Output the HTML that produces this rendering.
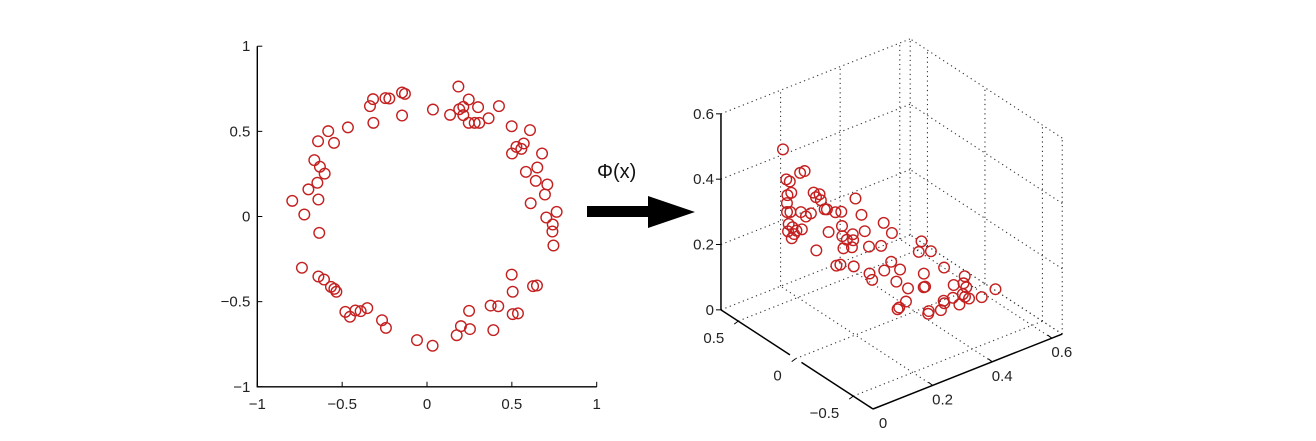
<!DOCTYPE html>
<html><head><meta charset="utf-8"><style>
html,body{margin:0;padding:0;background:#fff;}
svg{display:block;font-family:"Liberation Sans",sans-serif;}
</style></head><body>
<svg id="fig" width="1316" height="441" viewBox="0 0 1316 441">
<g id="left"></g>
<g id="arrow">
<rect x="587" y="206" width="64" height="11" fill="#000"/>
<polygon points="648,196 695,212 648,228" fill="#000"/>
<text x="597" y="178" font-size="20" fill="#111">Φ(x)</text>
</g>
<g id="right"></g>
</svg>
<script>
const x1 = [0.185,-0.318,-0.336,-0.316,-0.245,-0.222,-0.147,-0.13,-0.147,0.035,0.136,0.19,0.214,0.246,0.301,0.214,0.246,0.281,0.308,0.363,0.424,-0.466,-0.582,-0.642,-0.548,-0.664,-0.631,-0.603,-0.646,-0.699,-0.64,-0.794,-0.723,-0.635,-0.737,-0.64,-0.607,-0.566,-0.546,-0.534,-0.481,-0.454,-0.422,-0.391,-0.352,-0.265,-0.242,-0.059,0.033,0.175,0.2,0.248,0.253,0.391,0.375,0.42,0.505,0.536,0.505,0.499,0.625,0.648,0.499,0.607,0.57,0.527,0.556,0.501,0.678,0.65,0.583,0.641,0.709,0.695,0.611,0.764,0.703,0.741,0.739,0.745];
const x2 = [0.763,0.689,0.648,0.55,0.695,0.693,0.728,0.72,0.593,0.628,0.597,0.63,0.644,0.687,0.642,0.595,0.55,0.55,0.55,0.577,0.648,0.523,0.501,0.442,0.432,0.331,0.292,0.252,0.198,0.159,0.1,0.092,0.012,-0.096,-0.301,-0.352,-0.37,-0.413,-0.425,-0.442,-0.56,-0.589,-0.552,-0.556,-0.538,-0.609,-0.654,-0.726,-0.759,-0.697,-0.644,-0.554,-0.661,-0.667,-0.523,-0.527,-0.573,-0.569,-0.442,-0.341,-0.409,-0.405,0.53,0.507,0.429,0.409,0.397,0.37,0.37,0.288,0.262,0.209,0.188,0.129,0.078,0.027,-0.006,-0.047,-0.088,-0.17];
const leftTicks = [-1,-0.5,0,0.5,1];
const leftTickLabels = ["\u22121","\u22120.5","0","0.5","1"];
const xTicks3 = [0,0.2,0.4,0.6];
const xTickLabels3 = ["0","0.2","0.4","0.6"];
const yTicks3 = [-0.5,0,0.5];
const yTickLabels3 = ["\u22120.5","0","0.5"];
const zTicks3 = [0,0.2,0.4,0.6];
const zTickLabels3 = ["0","0.2","0.4","0.6"];
const NS="http://www.w3.org/2000/svg";
function mk(parent,tag,attrs){const e=document.createElementNS(NS,tag);for(const k in attrs)e.setAttribute(k,attrs[k]);parent.appendChild(e);return e;}
const RED="#c42020";
const FS=15, TXT='#222';
// Left plot
const L=document.getElementById('left');
const sx=v=>427+v*169.7, sy=v=>216.5-v*170.3;
let ax=mk(L,'path',{d:`M${sx(-1)},${sy(1)} V${sy(-1)} H${sx(1)}`,stroke:'#000','stroke-width':1.4,fill:'none'});


leftTicks.forEach((t,i)=>{
  mk(L,'line',{x1:sx(t),y1:sy(-1),x2:sx(t),y2:sy(-1)-5,stroke:'#000'});
  mk(L,'line',{x1:sx(-1),y1:sy(t),x2:sx(-1)+5,y2:sy(t),stroke:'#000'});
  let tx=mk(L,'text',{x:sx(t),y:sy(-1)+22,'font-size':FS,fill:TXT,'text-anchor':'middle'});tx.textContent=leftTickLabels[i];
  
  
  let ty=mk(L,'text',{x:sx(-1)-7,y:sy(t)+5,'font-size':FS,fill:TXT,'text-anchor':'end'});ty.textContent=leftTickLabels[i];
  
  
});
x1.forEach((a,i)=>{
  let c=mk(L,'circle',{cx:sx(a),cy:sy(x2[i]),r:5.3,fill:'none',stroke:RED,'stroke-width':1.4});
  
  
});
// Right 3D plot
const R=document.getElementById('right');
const XMAX=0.635,YMIN=-0.672,YMAX=0.65,ZMAX=0.6;
function P(x,y,z){return [873+x*298-(y-YMIN)*115, 409-x*118-(y-YMIN)*75-z*326.7];}
function seg(a,b,attrs){const p=P(...a),q=P(...b);return mk(R,'line',Object.assign({x1:p[0],y1:p[1],x2:q[0],y2:q[1]},attrs));}
const dot={stroke:'#333','stroke-width':1.1,'stroke-dasharray':'1.2 3.5'};
xTicks3.forEach(t=>{if(t>0)seg([t,YMIN,0],[t,YMAX,0],dot);});
yTicks3.forEach(t=>seg([0,t,0],[XMAX,t,0],dot));
seg([XMAX,YMIN,0],[XMAX,YMAX,0],dot);
xTicks3.forEach(t=>{if(t>0)seg([t,YMAX,0],[t,YMAX,ZMAX],dot);});
zTicks3.forEach(t=>seg([0,YMAX,t],[XMAX,YMAX,t],dot));
seg([XMAX,YMAX,0],[XMAX,YMAX,ZMAX],dot);
yTicks3.forEach(t=>seg([XMAX,t,0],[XMAX,t,ZMAX],dot));
zTicks3.forEach(t=>seg([XMAX,YMIN,t],[XMAX,YMAX,t],dot));
seg([XMAX,YMIN,0],[XMAX,YMIN,ZMAX],dot);
const sol={stroke:'#000','stroke-width':1.5};
let za=seg([0,YMAX,0],[0,YMAX,ZMAX],sol);


let ya1=seg([0,YMAX,0],[0,0.05,0],sol);


seg([0,-0.05,0],[0,YMIN,0],sol);
let xa=seg([0,YMIN,0],[XMAX,YMIN,0],sol);


zTicks3.forEach((t,i)=>{
  const p=P(0,YMAX,t);
  mk(R,'line',{x1:p[0],y1:p[1],x2:p[0]-5,y2:p[1],stroke:'#000'});
  let tx=mk(R,'text',{x:p[0]-7,y:p[1]+5,'font-size':FS,fill:TXT,'text-anchor':'end'});tx.textContent=zTickLabels3[i];
  
  
});
yTicks3.forEach((t,i)=>{
  const p=P(0,t,0);
  mk(R,'line',{x1:p[0],y1:p[1],x2:p[0]-4,y2:p[1]+3,stroke:'#000'});
  let tx=mk(R,'text',{x:p[0]-14,y:p[1]+22,'font-size':FS,fill:TXT,'text-anchor':'end'});tx.textContent=yTickLabels3[i];
  
  
});
xTicks3.forEach((t,i)=>{
  const p=P(t,YMIN,0);
  mk(R,'line',{x1:p[0],y1:p[1],x2:p[0]-4,y2:p[1]-3,stroke:'#000'});
  let tx=mk(R,'text',{x:p[0]+10,y:p[1]+19,'font-size':FS,fill:TXT,'text-anchor':'middle'});tx.textContent=xTickLabels3[i];
  
  
});
x1.forEach((a,i)=>{
  const b=x2[i];
  const p=P(a*a,Math.SQRT2*a*b,b*b);
  let c=mk(R,'circle',{cx:p[0],cy:p[1],r:5.3,fill:'none',stroke:RED,'stroke-width':1.4});
  
  
});
</script>
</body></html>
